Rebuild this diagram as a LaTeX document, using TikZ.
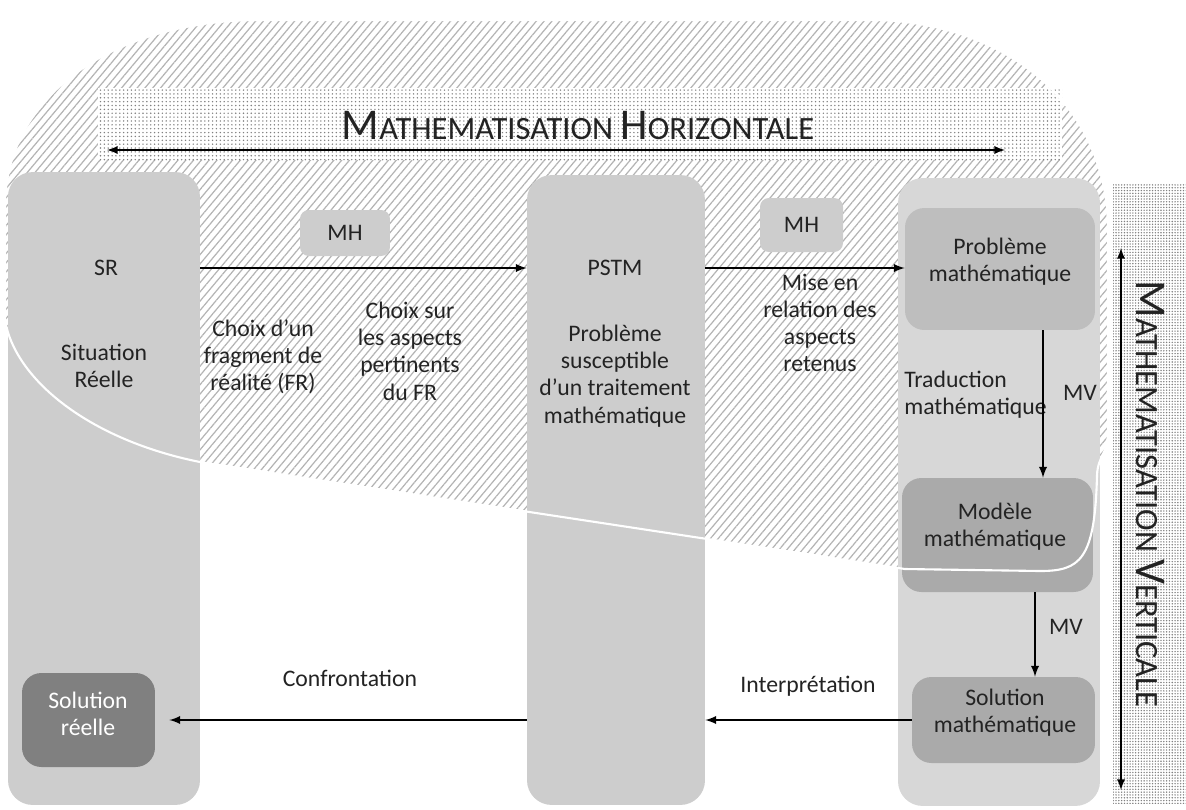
\documentclass[tikz,border=0pt]{standalone}
\usepackage{fontspec}
\setmainfont{Carlito}
\usetikzlibrary{arrows,calc,patterns.meta}

\definecolor{colgray}{RGB}{205,205,205}
\definecolor{rcolgray}{RGB}{215,215,215}
\definecolor{pbgray}{RGB}{190,190,190}
\definecolor{boxdark}{RGB}{170,170,170}
\definecolor{soldark}{RGB}{128,128,128}
\definecolor{hatchgray}{RGB}{180,180,180}
\definecolor{txt}{RGB}{35,35,35}

\newcommand{\blobpath}{(5,320) -- (5,200) .. controls (10,90) and (120,20) .. (260,20) -- (870,20)
  .. controls (1000,20) and (1108,100) .. (1108,230) -- (1108,430)
  .. controls (1108,455) and (1098,455) .. (1097,475)
  .. controls (1095,560) and (1080,571) .. (1040,571) -- (905,569) -- (200,462)
  .. controls (90,440) and (15,380) .. (5,320) -- cycle}
\newcommand{\msc}[2]{{\fontsize{25}{28}\selectfont #1}{\fontsize{18.5}{21}\selectfont #2}}

\tikzset{
  column/.style={fill=colgray, rounded corners=14pt, inner sep=0pt},
  box/.style={fill=pbgray, rounded corners=11pt, inner sep=0pt},
  mhbox/.style={fill=colgray, rounded corners=5pt, inner sep=0pt, text=txt, font=\fontsize{13.5}{15.5}\selectfont},
  lbl/.style={align=center, text=txt, font=\fontsize{13.5}{15.5}\selectfont},
  title/.style={text=txt, font=\fontsize{18.5}{21}\selectfont},
  link/.style={-latex, line width=1.1pt}
}

\begin{document}
\begin{tikzpicture}[x=0.02cm, y=-0.02cm]
    \useasboundingbox (0,0) rectangle (1186,809);

    % hatched zone and dotted bands
    \fill[pattern={Lines[angle=50,distance=3.4pt,line width=0.7pt]}, pattern color=hatchgray] \blobpath;
    \fill[white] (98,88) rectangle (1062,160);
    \fill[pattern={Dots[distance=2.2pt,radius=0.45pt]}, pattern color=gray] (98,88) rectangle (1062,160);
    \fill[pattern={Dots[distance=1.6pt,radius=0.45pt]}, pattern color=gray] (1113,183) rectangle (1186,803);

    \node[title] (mhtitle) at (578,126) {\msc{M}{ATHEMATISATION} \msc{H}{ORIZONTALE}};
    \node[title, rotate=-90] (mvtitle) at (1150,494) {\msc{M}{ATHEMATISATION} \msc{V}{ERTICALE}};
    \coordinate (hleft)  at (107,150);
    \coordinate (hright) at (1005,150);
    \coordinate (vtop)   at (1121,248);
    \coordinate (vbot)   at (1121,790);
    \draw[latex-latex, line width=1.1pt] (hleft) -- (hright);
    \draw[latex-latex, line width=1.1pt] (vbot) -- (vtop);

    % columns
    \node[column, minimum width=3.84cm, minimum height=12.66cm] (srcol)   at (104,488.5) {};
    \node[column, minimum width=3.56cm, minimum height=12.6cm]  (pstmcol) at (616,490) {};
    \node[column, fill=rcolgray, minimum width=4.04cm, minimum height=12.56cm] (mathcol) at (999,492) {};

    \node[box, minimum width=3.8cm, minimum height=2.44cm] (pb) at (1000,269) {};
    \node[box, fill=boxdark, minimum width=3.82cm, minimum height=2.28cm] (mod) at (997.5,535) {};
    \node[box, fill=boxdark, minimum width=3.66cm, minimum height=1.72cm] (solm) at (1003.5,720) {};
    \node[box, fill=soldark, minimum width=2.66cm, minimum height=1.88cm] (solr) at (88.5,720) {};

    \draw[white, line width=1.2pt] \blobpath;

    \node[mhbox, minimum width=1.8cm, minimum height=0.92cm]  (mh1) at (345,233) {MH};
    \node[mhbox, minimum width=1.66cm, minimum height=1.08cm] (mh2) at (801.5,225) {MH};

    \node[lbl] (srlab)   at (106,268) {SR};
    \node[lbl] (sitlab)  at (104,366) {Situation\\Réelle};
    \node[lbl] (pstmlab) at (615,268) {PSTM};
    \node[lbl] (pstmtxt) at (615,376) {Problème\\susceptible\\d’un traitement\\mathématique};
    \node[lbl] (choix1)  at (263,357) {Choix d’un\\fragment de\\réalité (FR)};
    \node[lbl] (choix2)  at (410,351) {Choix sur\\les aspects\\pertinents\\du FR};
    \node[lbl] (mise)    at (820,323) {Mise en\\relation des\\aspects\\retenus};
    \node[lbl] (pblab)   at (1000,262) {Problème\\mathématique};
    \node[lbl, align=left, anchor=west, inner sep=0pt] (trad) at (904,395) {Traduction\\mathématique};
    \node[lbl] (mv1)     at (1080,393) {MV};
    \node[lbl] (modlab)  at (995,527) {Modèle\\mathématique};
    \node[lbl] (mv2)     at (1066,627) {MV};
    \node[lbl] (solmlab) at (1005,713) {Solution\\mathématique};
    \node[lbl, text=white] (solrlab) at (88,714) {Solution\\réelle};
    \node[lbl] (interp)  at (808,686) {Interprétation};
    \node[lbl] (conf)    at (350,678) {Confrontation};

    \draw[link] (srcol.east |- srlab) -- (pstmcol.west |- srlab);
    \draw[link] (pstmcol.east |- pstmlab) -- (pb.west |- pstmlab);
    \draw[link] ($(pb.south)+(43,0)$) coordinate (t1) -- (t1 |- mod.north);
    \draw[link] ($(mod.south)+(37.5,0)$) coordinate (t2) -- (t2 |- solm.north);
    \draw[link] (solm.west) -- (solm.west -| pstmcol.east);
    \draw[link, shorten >=8pt] (pstmcol.west |- solm.west) -- (solr.east |- solm.west);

\end{tikzpicture}
\end{document}
